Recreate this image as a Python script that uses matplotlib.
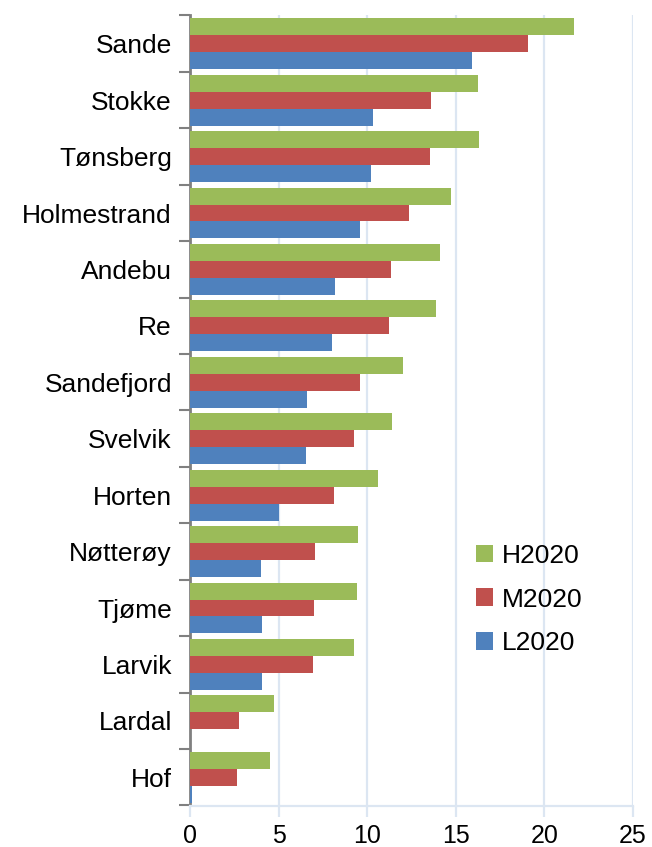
import matplotlib
matplotlib.use("Agg")
from matplotlib import pyplot as plt
import numpy as np

plt.rcParams['font.family'] = ['Liberation Sans', 'DejaVu Sans']

# data, top to bottom as shown
places = ['Sande', 'Stokke', 'Tønsberg', 'Holmestrand', 'Andebu', 'Re', 'Sandefjord',
          'Svelvik', 'Horten', 'Nøtterøy', 'Tjøme', 'Larvik', 'Lardal', 'Hof']
h2020 = [21.66, 16.24, 16.31, 14.75, 14.09, 13.88, 12.0, 11.41, 10.6, 9.46, 9.40, 9.25, 4.73, 4.49]
m2020 = [19.1, 13.62, 13.56, 12.37, 11.34, 11.23, 9.57, 9.23, 8.14, 7.03, 7.01, 6.93, 2.77, 2.66]
l2020 = [15.93, 10.30, 10.21, 9.60, 8.18, 8.02, 6.58, 6.54, 5.05, 4.01, 4.07, 4.07, 0.0, 0.1]

green = '#9bbb59'
red = '#c0504d'
blue = '#4f81bd'
grid_col = '#dce6f2'

fig = plt.figure(figsize=(6.52, 8.47), dpi=100)
ax = fig.add_axes([190 / 652, 1 - 805.5 / 847, 443 / 652, 790 / 847])

n = len(places)
y = np.arange(n)[::-1]  # first place at top
h = 0.3
ax.barh(y + h, h2020, height=h, color=green, linewidth=0, label='H2020', zorder=3)
ax.barh(y, m2020, height=h, color=red, linewidth=0, label='M2020', zorder=3)
ax.barh(y - h, l2020, height=h, color=blue, linewidth=0, label='L2020', zorder=3)

ax.set_xlim(0, 25)
ax.set_ylim(-0.5, n - 0.5)
ax.set_xticks([0, 5, 10, 15, 20, 25])
ax.grid(axis='x', color=grid_col, linewidth=1.6, zorder=0)

# category labels between boundary ticks
ax.set_yticks(np.arange(n + 1) - 0.5)
ax.set_yticklabels([])
ax.set_yticks(y, minor=True)
ax.set_yticklabels(places, minor=True)
ax.tick_params(axis='y', which='major', length=8, width=1.5, color='#808080', direction='out')
ax.tick_params(axis='y', which='minor', length=0, pad=13, labelsize=19)
ax.tick_params(axis='x', length=8, width=1.6, color=grid_col, labelsize=18, pad=5)

for s in ['top', 'right']:
    ax.spines[s].set_visible(False)
ax.spines['left'].set_color('#808080')
ax.spines['left'].set_linewidth(2)
ax.spines['bottom'].set_color(grid_col)
ax.spines['bottom'].set_linewidth(1.6)

leg = ax.legend(loc='upper left', bbox_to_anchor=(452 / 652, 1 - 520 / 847),
                bbox_transform=fig.transFigure, frameon=False, fontsize=19,
                handlelength=0.65, handleheight=0.65, handletextpad=0.35, labelspacing=0.75)

fig.savefig('out.png', dpi=100)
